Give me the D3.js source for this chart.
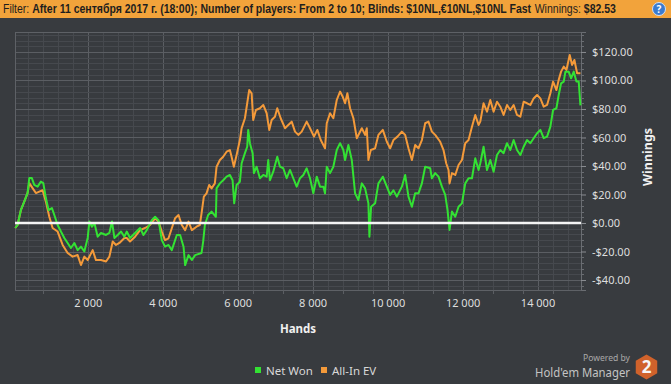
<!DOCTYPE html>
<html>
<head>
<meta charset="utf-8">
<script src="https://cdn.jsdelivr.net/npm/d3@7"></script>
<style>
  body { margin: 0; background: #383b3f; }
  svg { display: block; }
</style>
</head>
<body>
<div id="chart"></div>
<script>
// Hands sampled for each series (x) and cumulative winnings in $ (y)
var netWonHands = [67,128,216,307,395,441,510,574,663,751,
    815,884,957,1045,1109,1197,1285,1376,1464,1552,
    1643,1731,1820,1910,1999,2044,2114,2178,2266,2354,
    2488,2578,2648,2712,2800,2888,2979,3041,3129,3263,
    3396,3487,3575,3709,3797,3888,3976,4064,4155,4243,
    4377,4465,4556,4599,4689,4778,4866,5037,5080,5125,
    5213,5304,5419,5438,5526,5614,5705,5793,5865,5908,
    5972,6060,6106,6194,6255,6282,6327,6399,6434,6506,
    6594,6683,6774,6816,6862,6950,7057,7129,7217,7308,
    7396,7484,7575,7663,7752,7842,7931,8019,8110,8198,
    8286,8331,8377,8465,8553,8644,8732,8820,8866,8954,
    9045,9133,9221,9312,9400,9488,9515,9560,9667,9755,
    9873,9980,10068,10156,10247,10381,10469,10557,10648,10736,
    10824,10915,11003,11137,11182,11270,11359,11449,11538,11599,
    11653,11717,11805,11893,11984,12072,12160,12251,12339,12427,
    12473,12561,12652,12740,12828,12919,13007,13095,13186,13274,
    13363,13453,13542,13630,13721,13809,13897,13988,14076,14164,
    14255,14343,14415,14504,14565,14629,14699,14744,14832,14896,
    14966,15038,15099,15145];
var netWonValues = [-3.5,-1.4,9,15,21,31.5,31.5,26.7,25.5,29,
    28,17.5,9,10.5,5.6,-1.4,-6,-10.5,-14,-17.5,
    -14,-19,-16.6,-20,-10.5,1,-2.6,0,-9.6,-7,
    -8.4,-7,1,-10.5,-8.4,-6,-9.6,-6,-10.5,-7,
    -3.5,-8.4,-5,2,4.4,2,-12,-16.6,-15.4,-19,
    -8.4,-8.4,-16.6,-29.5,-22.5,-26,-22.5,-21,-13,-1.4,
    5.6,8,4.4,24.3,27.8,30,32.5,33.7,30,13.8,
    26.7,29,41.9,49,53.5,65.3,56,49,35,39.5,
    31.4,33.7,32.5,44.2,30,36,46.5,39.5,38.4,31.4,
    37.2,31.4,25.5,31.4,33.7,38.4,31.4,20.8,32.5,25.5,
    25.5,20.8,39.5,35,39.5,51.2,56,51.2,44.2,54.7,
    44.2,20.8,16.1,27.8,24.3,13.8,-9.6,11.4,13.8,27.8,
    32.5,25.5,19.7,23,18.5,25.5,33.7,18.5,11.4,20.8,
    20.8,27.8,39.5,38.4,31.4,35,32.5,25.5,19.7,9.1,
    -4.9,8,4.4,11.4,13.8,27.8,31.4,31.4,45.4,37.2,
    41.9,53.5,37.2,44.2,36,47.7,51.2,49,56,51.2,
    58.2,51.2,47.7,53.5,58.2,56,59.5,63,65.3,59.5,
    60.6,67.6,79.3,80.5,89.8,98,99.2,106.2,106.2,101.5,
    106.2,99.2,99.2,82.53];

var allInHands = [67,128,216,307,395,441,529,617,708,796,
    884,975,1063,1197,1331,1464,1598,1731,1820,1910,
    1999,2132,2220,2354,2488,2578,2667,2755,2846,2979,
    3041,3129,3263,3396,3530,3663,3797,3888,3976,4064,
    4155,4243,4331,4422,4510,4599,4689,4778,4903,4991,
    5037,5098,5170,5240,5304,5392,5438,5526,5614,5705,
    5793,5838,5899,5972,6060,6106,6194,6255,6309,6373,
    6415,6487,6594,6683,6774,6843,6907,6995,7057,7148,
    7263,7351,7442,7530,7618,7709,7842,7931,8037,8126,
    8217,8331,8377,8465,8553,8644,8732,8804,8866,8927,
    8999,9088,9178,9312,9400,9445,9488,9552,9667,9755,
    9873,9980,10068,10156,10263,10381,10469,10557,10648,10736,
    10824,10915,11003,11091,11182,11270,11404,11492,11564,11626,
    11653,11717,11805,11893,11984,12072,12160,12251,12339,12427,
    12473,12561,12652,12740,12828,12919,13007,13095,13186,13274,
    13363,13453,13542,13630,13721,13809,13897,13988,14076,14164,
    14255,14343,14415,14504,14565,14629,14699,14771,14859,14923,
    14984,15056,15145];
var allInValues = [-3.5,-1.4,9,15,21,28,24.5,21,22,23,
    15,4.4,-3.5,-6,-15.4,-21,-23.6,-22.5,-29.5,-23.6,
    -26,-19,-26,-26,-27,-23.6,-13,-15.4,-14,-10.5,
    -10.5,-13,-9.6,-5,-3.5,-1.4,3.3,1,-6,-12,
    -10.7,-3.7,3.3,5.6,-1.4,-5,1,-5,-2.6,-1.4,
    6.8,18.5,20.8,26.7,24.3,27.8,39.5,44.2,46.5,50,
    51.2,46.5,39.5,47.7,58.2,66.5,73.5,84,93.3,91,
    72.3,79.3,80.5,82.8,77,65.3,72.3,74.6,80.5,73.5,
    66.5,68.8,71.1,64.1,61.8,64.1,71.1,66.5,60.6,65.3,
    58.2,52.4,70,77,73.5,86.3,92.2,88.6,84,91,
    80.5,73.5,59.5,66.5,61.8,66.5,44.2,51.2,52.4,61.8,
    65.3,57,52.4,58.2,60.6,64.1,61.8,52.4,44.2,54.7,
    52.4,58.2,70,71.1,64.1,61.8,57,51.2,41.9,37.2,
    27.8,35,33.7,40.7,44.2,56,58.2,67.6,75.8,68.8,
    71.1,84,78.1,86.3,78.1,85.1,81.6,75.8,82.8,79.3,
    82.8,75.8,74.6,85.1,84,82.8,87.4,89.8,87.4,81.6,
    82.8,91,99.2,93.3,100.4,106.2,109.7,107.4,117.9,110.9,
    114.4,105.1,105.1];

var seriesNames = ["Net Won", "All-In EV"];
var seriesColors = ["#33e233", "#f49a3a"];
var xTicks = [2000, 4000, 6000, 8000, 10000, 12000, 14000];
var yTicks = [-40, -20, 0, 20, 40, 60, 80, 100, 120];

// header pieces: [text, bold?]
var headerParts = [
    ["Filter:", false],
    ["After 11 сентября 2017 г. (18:00); Number of players: From 2 to 10; Blinds: $10NL,€10NL,$10NL Fast", true],
    ["Winnings:", false],
    ["$82.53", true]
];

var W = 671, H = 384;
var margin = {top: 32, right: 90, bottom: 94, left: 15},
    width = W - margin.left - margin.right,
    height = H - margin.top - margin.bottom;

var font = "'Noto Sans', 'Open Sans', sans-serif";

var svg = d3.select("#chart")
    .append("svg")
    .attr("width", W)
    .attr("height", H)
    .style("font-family", font);

svg.append("rect").attr("width", W).attr("height", H).attr("fill", "#383b3f");

// squeeze a text horizontally (anchored at ax) so that it is w pixels wide
function fitWidth(sel, ax, w) {
    var natural = sel.node().getComputedTextLength();
    sel.attr("transform", "translate(" + ax + ",0) scale(" + (w / natural) + ",1) translate(" + (-ax) + ",0)");
}

// Filter bar on top
svg.append("rect").attr("width", W).attr("height", 18).attr("fill", "#f2a33b");
var headerG = svg.append("g");
var headerTexts = headerG.selectAll("text")
    .data(headerParts)
    .enter()
    .append("text")
    .attr("y", 13)
    .style("font-family", "'Liberation Sans Narrow', 'Liberation Sans', sans-serif")
    .style("font-size", "12px")
    .style("font-weight", d => d[1] ? "bold" : "normal")
    .style("fill", "#1e1e1e")
    .text(d => d[0]);
// lay the pieces side by side with a space gap, then squeeze the group to the bar width
var cx = 0, gap = 3.4;
headerTexts.each(function() {
    d3.select(this).attr("x", cx);
    cx += this.getComputedTextLength() + gap;
});
var naturalW = cx - gap;
headerG.attr("transform", "translate(3,0) scale(" + (613 / naturalW) + ",1)");

// help icon
svg.append("circle").attr("cx", 659).attr("cy", 9).attr("r", 6.5)
    .attr("fill", "#3b7bd0").attr("stroke", "#cfe0f5").attr("stroke-width", 1);
svg.append("text").attr("x", 659).attr("y", 12.5)
    .attr("text-anchor", "middle")
    .style("font-size", "10px").style("font-weight", "bold").style("fill", "#fff")
    .text("?");

var g = svg.append("g")
    .attr("transform", "translate(" + margin.left + "," + margin.top + ")");

var x = d3.scaleLinear().domain([60, 15160]).range([0, width]);
var y = d3.scaleLinear().domain([-47, 134]).range([height, 0]);

// Grid lines, minor then major
var xMinor = d3.range(400, 15160, 400);
var yMinor = d3.range(-44, 134, 4);

g.selectAll(".vminor")
    .data(xMinor)
    .enter()
    .append("line")
    .attr("x1", d => Math.round(x(d)) + 0.5)
    .attr("x2", d => Math.round(x(d)) + 0.5)
    .attr("y1", 0)
    .attr("y2", height)
    .attr("stroke", d => d % 2000 === 0 ? "#5b5e63" : "#46494e");

g.selectAll(".hminor")
    .data(yMinor)
    .enter()
    .append("line")
    .attr("x1", 0)
    .attr("x2", width)
    .attr("y1", d => Math.round(y(d)) + 0.5)
    .attr("y2", d => Math.round(y(d)) + 0.5)
    .attr("stroke", d => d % 20 === 0 ? "#5b5e63" : "#46494e");

g.append("rect")
    .attr("x", 0.5).attr("y", 0.5)
    .attr("width", width).attr("height", height)
    .attr("fill", "none")
    .attr("stroke", "#5e6166");

// Bottom axis
var xAxis = g.append("g")
    .attr("transform", "translate(0," + height + ")")
    .call(d3.axisBottom(x)
        .tickValues(xTicks)
        .tickSize(0)
        .tickPadding(9)
        .tickFormat(d => d3.format(",")(d).replace(",", " ")));
xAxis.select(".domain").remove();
xAxis.selectAll("text").style("font-size", "11px").style("fill", "#dedede").style("font-family", font);

g.selectAll(".xtick")
    .data(d3.range(800, 15160, 800))
    .enter()
    .append("line")
    .attr("x1", d => Math.round(x(d)) + 0.5)
    .attr("x2", d => Math.round(x(d)) + 0.5)
    .attr("y1", height)
    .attr("y2", height + 4)
    .attr("stroke", "#5b5e63");

// Right axis
var yAxis = g.append("g")
    .attr("transform", "translate(" + width + ",0)")
    .call(d3.axisRight(y)
        .tickValues(yTicks)
        .tickSize(5)
        .tickPadding(6)
        .tickFormat(d => (d < 0 ? "-" : "") + "$" + Math.abs(d).toFixed(2)));
yAxis.select(".domain").attr("stroke", "#6a6d72");
yAxis.selectAll("line").attr("stroke", "#8a8d92");
yAxis.selectAll("text").style("font-size", "11px").style("fill", "#dedede").style("font-family", font);

g.selectAll(".ytick")
    .data(yMinor.filter(d => d % 20 !== 0))
    .enter()
    .append("line")
    .attr("x1", width)
    .attr("x2", width + 3)
    .attr("y1", d => Math.round(y(d)) + 0.5)
    .attr("y2", d => Math.round(y(d)) + 0.5)
    .attr("stroke", "#6a6d72");

// Axis titles
svg.append("text")
    .attr("x", margin.left + width / 2)
    .attr("y", 333)
    .attr("text-anchor", "middle")
    .style("font-size", "11.5px").style("font-weight", "bold").style("fill", "#f0f0f0")
    .text("Hands");

svg.append("text")
    .attr("transform", "translate(652,157) rotate(-90)")
    .attr("text-anchor", "middle")
    .style("font-size", "12.5px").style("font-weight", "bold").style("fill", "#f0f0f0")
    .text("Winnings");

// Series
var line = d3.line()
    .x(d => x(d[0]))
    .y(d => y(d[1]));

var series = [
    d3.zip(netWonHands, netWonValues),
    d3.zip(allInHands, allInValues)
];

g.selectAll(".series")
    .data([series[1], series[0]])
    .enter()
    .append("path")
    .attr("d", line)
    .attr("fill", "none")
    .attr("stroke", (d, i) => i === 0 ? seriesColors[1] : seriesColors[0])
    .attr("stroke-width", 2)
    .attr("stroke-linejoin", "round");

// Zero line
g.append("line")
    .attr("x1", 0).attr("x2", width)
    .attr("y1", y(0)).attr("y2", y(0))
    .attr("stroke", "#f4f4f4")
    .attr("stroke-width", 2.5);

// Legend
var legend = svg.selectAll(".legend")
    .data(seriesNames)
    .enter()
    .append("g")
    .attr("transform", (d, i) => "translate(" + (i === 0 ? 255 : 321) + ",367)");
legend.append("rect")
    .attr("width", 6).attr("height", 6)
    .attr("fill", (d, i) => seriesColors[i]);
legend.append("text")
    .attr("x", 11).attr("y", 7.5)
    .style("font-size", "11.5px").style("fill", "#d8d8d8")
    .text(d => d);

// Powered by logo
var powered = svg.append("text")
    .attr("x", 630).attr("y", 361)
    .attr("text-anchor", "end")
    .style("font-size", "9.5px").style("fill", "#a8a8a8")
    .text("Powered by");
fitWidth(powered, 630, 47);
var hem = svg.append("text")
    .attr("x", 630).attr("y", 377)
    .attr("text-anchor", "end")
    .style("font-size", "13px").style("fill", "#c4c4c4")
    .text("Hold'em Manager");
fitWidth(hem, 630, 95);

var hex = d3.range(6).map(i => {
    var a = Math.PI / 3 * i - Math.PI / 2;
    return [646.5 + 12.4 * Math.cos(a), 367 + 12.4 * Math.sin(a)];
});
svg.append("polygon")
    .attr("points", hex.map(p => p.join(",")).join(" "))
    .attr("fill", "#d0622b");
svg.append("text")
    .attr("x", 646.5).attr("y", 373)
    .attr("text-anchor", "middle")
    .style("font-size", "17px").style("font-weight", "bold").style("fill", "#f6f6f6")
    .text("2");
</script>
</body>
</html>
